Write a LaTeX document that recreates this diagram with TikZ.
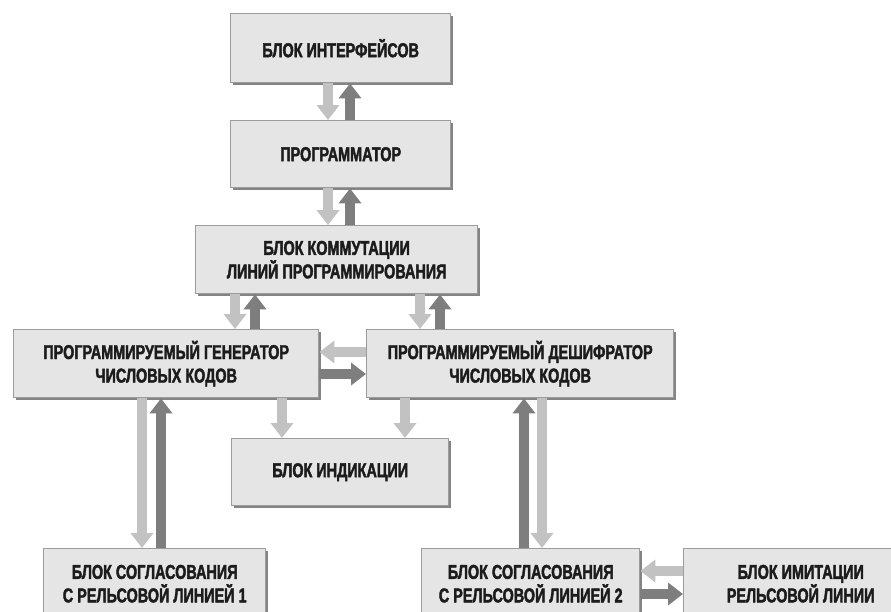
\documentclass[tikz,border=0pt]{standalone}
\usepackage{fontspec}
\setmainfont{Liberation Sans}[FakeStretch=0.72, BoldFeatures={FakeBold=2}]
\usetikzlibrary{arrows.meta,shadows}
\definecolor{boxfill}{HTML}{E5E5E5}
\definecolor{boxline}{HTML}{9C9C9C}
\definecolor{lightarr}{HTML}{C2C2C2}
\definecolor{darkarr}{HTML}{7E7E7E}
\definecolor{ink}{HTML}{1C1C1C}
\tikzset{
  blk/.style={draw=boxline, line width=1.4pt, fill=boxfill, anchor=north west,
    inner sep=0pt, align=center, text=ink,
    font=\fontsize{20}{23.5}\selectfont\bfseries,
    drop shadow={shadow xshift=2.5pt, shadow yshift=-2.5pt, fill=black!60, opacity=0.8}},
  larr/.style={draw=lightarr, line width=10pt,
    -{Triangle[width=22pt,length=15pt]}},
  darr/.style={draw=darkarr, line width=10pt,
    -{Triangle[width=22pt,length=15pt]}},
}
\begin{document}
\begin{tikzpicture}[x=1pt,y=-1pt]
\path[use as bounding box, clip] (0,0) rectangle (891,611);
\fill[white] (0,0) rectangle (891,611);

% blocks
\node[blk, minimum width=220pt, minimum height=69pt] (intf) at (230,13) {БЛОК ИНТЕРФЕЙСОВ};
\node[blk, minimum width=220pt, minimum height=67pt] (prog) at (230,120) {ПРОГРАММАТОР};
\node[blk, minimum width=282pt, minimum height=68pt] (comm) at (195,225) {БЛОК КОММУТАЦИИ\\ЛИНИЙ ПРОГРАММИРОВАНИЯ};
\node[blk, minimum width=305pt, minimum height=68pt] (gen) at (13,329) {ПРОГРАММИРУЕМЫЙ ГЕНЕРАТОР\\ЧИСЛОВЫХ КОДОВ};
\node[blk, minimum width=307pt, minimum height=68pt] (dec) at (366,329) {ПРОГРАММИРУЕМЫЙ ДЕШИФРАТОР\\ЧИСЛОВЫХ КОДОВ};
\node[blk, minimum width=217pt, minimum height=67pt] (ind) at (231,438) {БЛОК ИНДИКАЦИИ};
\node[blk, minimum width=222pt, minimum height=70pt] (sg1) at (43,548) {БЛОК СОГЛАСОВАНИЯ\\С РЕЛЬСОВОЙ ЛИНИЕЙ 1};
\node[blk, minimum width=218pt, minimum height=70pt] (sg2) at (421,548) {БЛОК СОГЛАСОВАНИЯ\\С РЕЛЬСОВОЙ ЛИНИЕЙ 2};
\node[blk, minimum width=234pt, minimum height=70pt] (imit) at (683,548) {БЛОК ИМИТАЦИИ\\РЕЛЬСОВОЙ ЛИНИИ};

% arrow columns and rows
\coordinate (xa) at (328,0);
\coordinate (xb) at (350,0);
\coordinate (xc) at (235,0);
\coordinate (xd) at (255,0);
\coordinate (xe) at (420,0);
\coordinate (xf) at (440,0);
\coordinate (xg) at (282,0);
\coordinate (xh) at (405,0);
\coordinate (xi) at (142,0);
\coordinate (xj) at (161,0);
\coordinate (xk) at (524,0);
\coordinate (xl) at (542,0);
\coordinate (ya) at (0,352);
\coordinate (yb) at (0,374);
\coordinate (yc) at (0,571);
\coordinate (yd) at (0,594);

% connectors
\draw[larr] (intf.south -| xa) -- (prog.north -| xa);
\draw[darr] (prog.north -| xb) -- (intf.south -| xb);
\draw[larr] (prog.south -| xa) -- (comm.north -| xa);
\draw[darr] (comm.north -| xb) -- (prog.south -| xb);
\draw[larr] (comm.south -| xc) -- (gen.north -| xc);
\draw[darr] (gen.north -| xd) -- (comm.south -| xd);
\draw[larr] (comm.south -| xe) -- (dec.north -| xe);
\draw[darr] (dec.north -| xf) -- (comm.south -| xf);
\draw[larr] (dec.west |- ya) -- (gen.east |- ya);
\draw[darr] (gen.east |- yb) -- (dec.west |- yb);
\draw[larr] (gen.south -| xg) -- (ind.north -| xg);
\draw[larr] (dec.south -| xh) -- (ind.north -| xh);
\draw[larr] (gen.south -| xi) -- (sg1.north -| xi);
\draw[darr] (sg1.north -| xj) -- (gen.south -| xj);
\draw[darr] (sg2.north -| xk) -- (dec.south -| xk);
\draw[larr] (dec.south -| xl) -- (sg2.north -| xl);
\draw[larr] (imit.west |- yc) -- (sg2.east |- yc);
\draw[darr] (sg2.east |- yd) -- (imit.west |- yd);
\end{tikzpicture}
\end{document}
